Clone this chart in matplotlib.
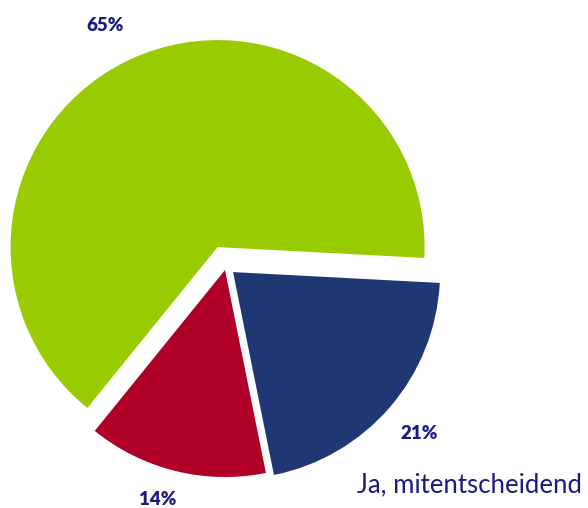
import matplotlib
matplotlib.use("Agg")
from matplotlib import pyplot as plt
import numpy as np

# slices, counter-clockwise from the right
labels = ["Nein", "Ja, teilweise", "Ja, mitentscheidend"]
values = [65, 14, 21]
colors = ["#99cc00", "#b00027", "#1f3772"]
explode = [0.10, 0.02, 0.045]   # fraction of the radius
label_dist = [1.20, 1.155, 1.19]
label_turn = [3, -2.5, 0]       # small angular nudge of the labels (deg)

W, H = 588, 508
fig = plt.figure(figsize=(W / 100, H / 100), dpi=100)
ax = fig.add_axes([0, 0, 1, 1])

cx, cy, r = 226, H - 266, 207
# pie's explode is in data units, so scale by the radius
wedges, _ = ax.pie(values, colors=colors, explode=[e * r for e in explode],
                   startangle=-3, counterclock=True, center=(cx, cy),
                   radius=r, wedgeprops=dict(linewidth=0))

navy = "#1a1a80"
for w, v, d, t in zip(wedges, values, label_dist, label_turn):
    ang = np.deg2rad((w.theta1 + w.theta2) / 2 + t)
    ox, oy = w.center
    ax.text(ox + d * r * np.cos(ang), oy + d * r * np.sin(ang), f"{v}%",
            ha="center", va="center", fontsize=13.5, fontweight="heavy",
            color=navy, family="Lato")

fig.text(357 / W, 1 - 485 / H, labels[2], ha="left", va="center",
         fontsize=18.5, color=navy, family="Lato")

ax.set_xlim(0, W)
ax.set_ylim(0, H)
ax.set_aspect("equal")
ax.axis("off")
fig.savefig("out.png", dpi=100)
